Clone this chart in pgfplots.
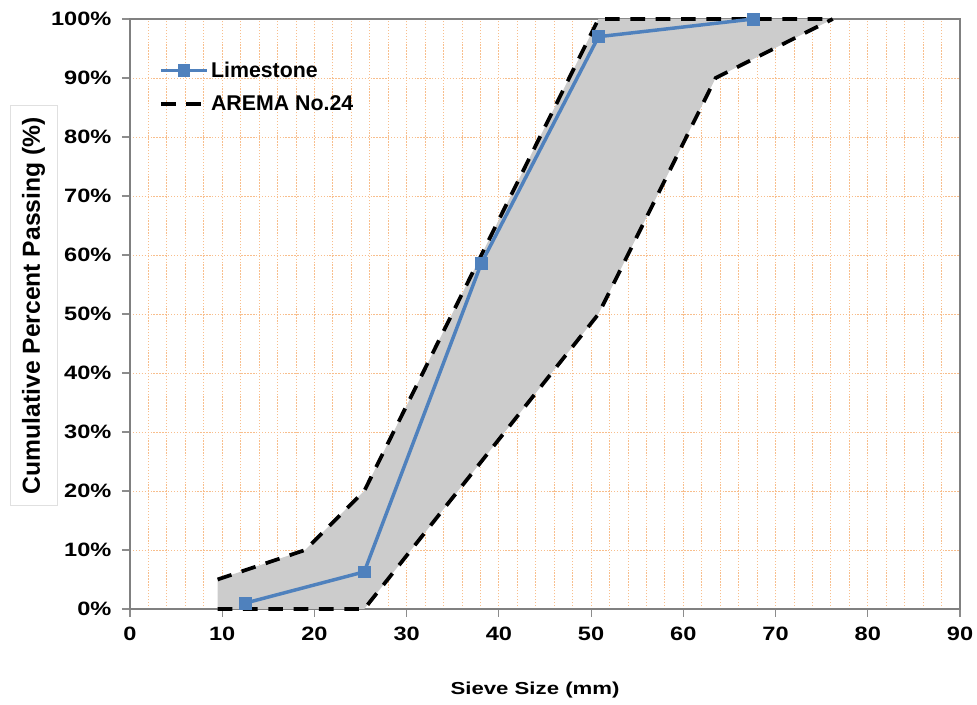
\documentclass[border=0pt]{standalone}
\usepackage{pgfplots}
\pgfplotsset{compat=1.18}
\usepackage{fontspec}
\setmainfont{Liberation Sans}

\definecolor{lsblue}{RGB}{79,129,189}
\definecolor{gridorange}{RGB}{248,190,140}
\definecolor{bandgray}{RGB}{204,204,204}

\begin{document}
\begin{tikzpicture}
\begin{axis}[
    name=ax,
    width=622.5pt, height=442.5pt, scale only axis,
    xmin=0, xmax=90, ymin=0, ymax=100,
    clip=false,
    axis line style={draw=black!50, line width=0.9pt},
    xtick={0,10,...,90},
    xticklabels={0,10,20,30,40,50,60,70,80,90},
    minor xtick={2,4,...,88},
    ytick={0,10,...,100},
    yticklabels={0\%,10\%,20\%,30\%,40\%,50\%,60\%,70\%,80\%,90\%,100\%},
    grid=both,
    major grid style={draw=gridorange, line width=0.6pt, dash pattern=on 1pt off 1.2pt},
    minor grid style={draw=gridorange, line width=0.6pt, dash pattern=on 1pt off 1.2pt},
    tick pos=left,
    tick align=outside,
    major tick length=6pt,
    minor tick length=0pt,
    tick style={draw=black!45, line width=0.8pt},
    xticklabel style={font=\fontsize{14.5}{16}\selectfont\bfseries, xscale=1.22, yshift=-4pt},
    yticklabel style={font=\fontsize{14.5}{16}\selectfont\bfseries, xscale=1.22, xshift=-3pt},
    xlabel={Sieve Size (mm)},
    xlabel style={font=\fontsize{13}{14}\selectfont\bfseries, xscale=1.28,
        at={(rel axis cs:0.488,-0.137)}, anchor=center},
    ylabel={Cumulative Percent Passing (\%)},
    ylabel style={font=\fontsize{18.5}{20}\selectfont\bfseries,
        at={(rel axis cs:-0.1163,0.514)}, anchor=center, rotate=0,
        draw=black!12, minimum width=300pt, minimum height=35pt},
    legend style={at={(rel axis cs:0.03,0.937)}, anchor=north west,
        draw=none, fill=none, font=\fontsize{16}{18}\selectfont\bfseries,
        row sep=8.5pt, cells={anchor=west}},
    legend image code/.code={
        \draw[#1] (0cm,0cm) -- (1.2cm,0cm);
        \draw[#1, mark repeat=2, mark phase=2] plot coordinates {(0cm,0cm) (0.6cm,0cm) (1.2cm,0cm)};
    },
    reverse legend,
]
% AREMA No.24 band
\addplot[fill=bandgray, draw=none, forget plot] coordinates {
    (9.5,5) (19,10) (25.4,20) (50.8,100) (76.2,100)
    (63.5,90) (50.8,50) (25.4,0) (9.5,0)} -- cycle;
\addplot[black, line width=2.8pt, dash pattern=on 11pt off 8pt, forget plot] coordinates {
    (9.5,0) (25.4,0) (50.8,50) (63.5,90) (76.2,100)};
\addplot[black, line width=2.8pt, dash pattern=on 11pt off 8pt, mark=none] coordinates {
    (9.5,5) (19,10) (25.4,20) (50.8,100) (76.2,100)};
\addlegendentry{AREMA No.24}
% Limestone
\addplot[lsblue, line width=2.6pt, mark=square*, mark size=4.4pt,
    mark options={solid, fill=lsblue, draw=lsblue, line width=0.5pt}] coordinates {
    (12.5,1) (25.4,6.3) (38.1,58.6) (50.8,97) (67.6,100)};
\addlegendentry{Limestone}
\end{axis}
\pgfresetboundingbox
\path[use as bounding box] ([xshift=-97.5pt,yshift=-72pt]ax.south west)
    rectangle ([xshift=12.75pt,yshift=14.25pt]ax.north east);
\end{tikzpicture}
\end{document}
